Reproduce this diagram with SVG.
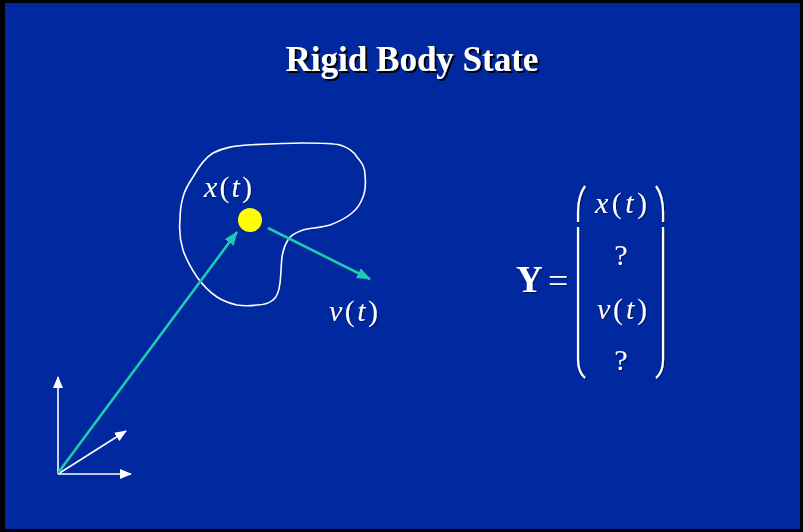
<svg xmlns="http://www.w3.org/2000/svg" width="803" height="532" viewBox="0 0 803 532">
<style>
.serif{font-family:"Liberation Serif","Times New Roman",serif;fill:#ffffff}
.it{font-style:italic}
.teal{stroke:#1ecbb0;stroke-width:2.6;fill:none}
.white{stroke:#ffffff;stroke-width:1.6;fill:none}
.paren{stroke:#ffffff;stroke-width:2.2;fill:none}
</style>
<defs>
<filter id="shadow" x="-10%" y="-20%" width="130%" height="150%">
<feDropShadow dx="2" dy="2" stdDeviation="0" flood-color="#000000" flood-opacity="1"/>
</filter>
<filter id="soft" x="-10%" y="-20%" width="130%" height="150%">
<feDropShadow dx="1" dy="1" stdDeviation="0.5" flood-color="#000033" flood-opacity="0.6"/>
</filter>
<marker id="ah-teal" markerWidth="15" markerHeight="11" refX="13" refY="5.5" orient="auto" markerUnits="userSpaceOnUse">
<path d="M0,0 L14,5.5 L0,11 Z" fill="#1ecbb0"/>
</marker>
<marker id="ah-white" markerWidth="12" markerHeight="10" refX="11" refY="5" orient="auto" markerUnits="userSpaceOnUse">
<path d="M0,0 L12,5 L0,10 Z" fill="#ffffff"/>
</marker>
</defs>
<rect x="0" y="0" width="803" height="532" fill="#000000"/>
<rect x="5" y="3" width="795" height="526" fill="#00289f"/>

<g id="title">
<text x="412" y="71" text-anchor="middle" class="serif" font-weight="bold" font-size="35" filter="url(#shadow)">Rigid Body State</text>
</g>

<g id="body">
<path class="white" stroke-width="2.4" d="M213,153 C225,147 235,146 247,145 C265,144 285,143 303,143 C320,143 332,143 340,145 C350,148 354,152 357,157 C362,163 365,167 365,175 C366,185 365,192 363,197 C360,205 357,209 352,213 C345,219 338,222 330,225 C320,228 310,228 303,230 C294,233 290,236 288,240 C284,246 283,251 282,257 C281,266 281,275 280,283 C279,292 277,297 273,300 C268,304 262,305 257,305 C250,306 243,306 237,305 C229,303 223,301 217,297 C208,291 202,284 197,277 C191,268 186,259 183,250 C180,240 179,230 180,220 C180,212 181,204 183,197 C185,189 189,183 193,177 C198,168 205,158 213,153 Z"/>
</g>

<g id="point">
<circle cx="250" cy="220" r="12" fill="#ffff00"/>
</g>

<g id="label-x">
<text x="204" y="197" class="serif" font-size="30" textLength="48" lengthAdjust="spacing" filter="url(#soft)"><tspan class="it">x</tspan>(<tspan class="it">t</tspan>)</text>
</g>
<g id="label-v">
<text x="329" y="321" class="serif" font-size="30" textLength="49" lengthAdjust="spacing" filter="url(#soft)"><tspan class="it">v</tspan>(<tspan class="it">t</tspan>)</text>
</g>

<g id="frame">
<line class="white" x1="58" y1="474" x2="58" y2="377" marker-end="url(#ah-white)"/>
<line class="white" x1="58" y1="474" x2="131" y2="474" marker-end="url(#ah-white)"/>
<line class="white" x1="58" y1="474" x2="126" y2="431" marker-end="url(#ah-white)"/>
</g>

<g id="connectors">
<line class="teal" x1="58" y1="473" x2="237" y2="232" marker-end="url(#ah-teal)"/>
<line class="teal" x1="268" y1="228" x2="370" y2="279" marker-end="url(#ah-teal)"/>
</g>

<g id="state-vector" filter="url(#soft)">
<text x="516" y="292" class="serif" font-weight="bold" font-size="37">Y</text>
<text x="548" y="293" class="serif" font-size="36">=</text>
<path class="paren" d="M585,186 Q578,196 578,212 L578,222 M578,227 L578,360 Q578,372 585,378"/>
<path class="paren" d="M656,186 Q663,196 663,212 L663,222 M663,227 L663,360 Q663,372 656,378"/>
<text x="595" y="213" class="serif" font-size="30" textLength="52" lengthAdjust="spacing"><tspan class="it">x</tspan>(<tspan class="it">t</tspan>)</text>
<text x="621" y="265" text-anchor="middle" class="serif" font-size="30">?</text>
<text x="597" y="319" class="serif" font-size="30" textLength="50" lengthAdjust="spacing"><tspan class="it">v</tspan>(<tspan class="it">t</tspan>)</text>
<text x="621" y="370" text-anchor="middle" class="serif" font-size="30">?</text>
</g>
</svg>
